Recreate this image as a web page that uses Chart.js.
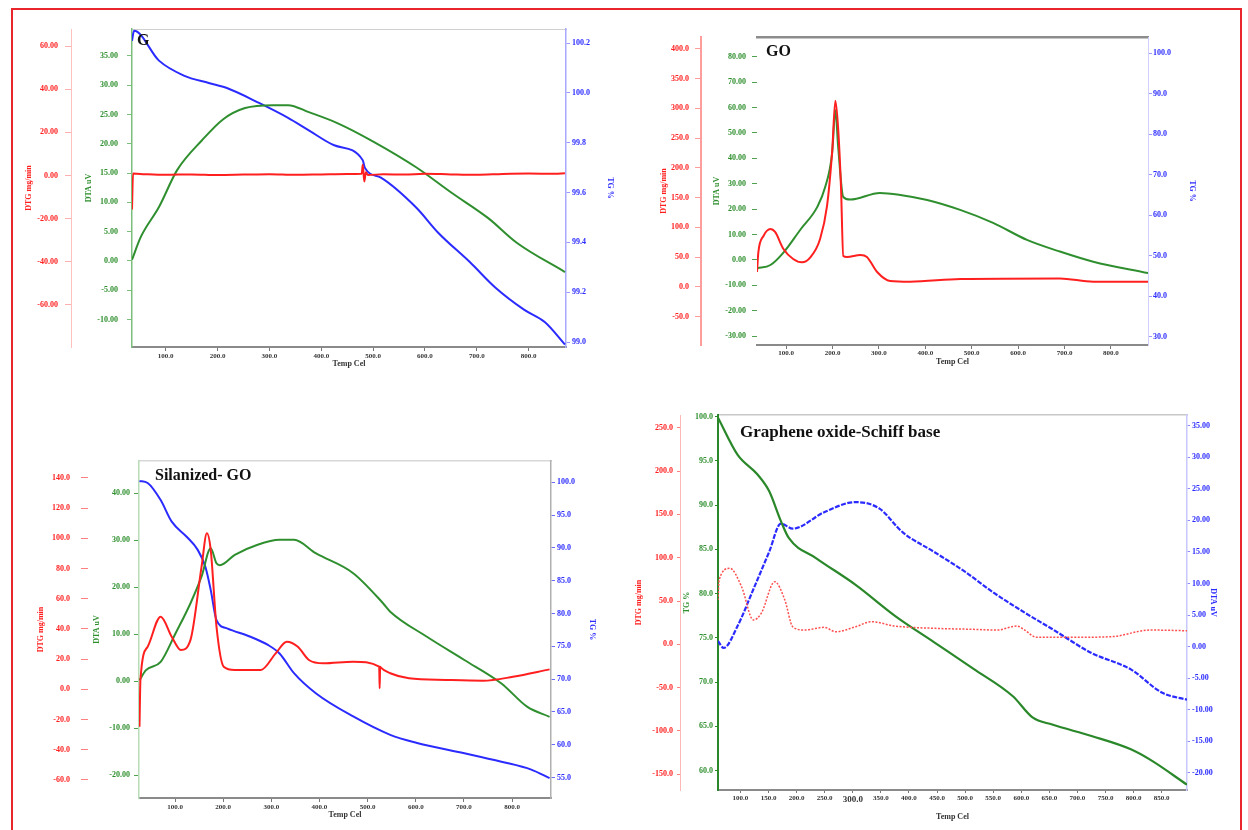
<!DOCTYPE html>
<html>
<head>
<meta charset="utf-8">
<script src="https://cdn.jsdelivr.net/npm/chart.js@4.4.1/dist/chart.umd.min.js"></script>
<style>
  body { margin: 0; background: #fff; width: 1248px; height: 830px; position: relative; overflow: hidden; }
  canvas { position: absolute; left: 0; top: 0; }
  .frame { position: absolute; left: 11px; top: 8px; width: 1227px; height: 820px; border: 2px solid #e8262b; }
  .ttl { position: absolute; font: bold 16px "Liberation Serif", serif; color: #111; white-space: nowrap; }
</style>
</head>
<body>
<div class="frame"></div>
<canvas id="cG" width="1248" height="830"></canvas>
<canvas id="cGO" width="1248" height="830"></canvas>
<canvas id="cSil" width="1248" height="830"></canvas>
<canvas id="cGsb" width="1248" height="830"></canvas>
<div class="ttl" style="left:137px;top:31px">G</div>
<div class="ttl" style="left:766px;top:42px">GO</div>
<div class="ttl" style="left:155px;top:466px">Silanized- GO</div>
<div class="ttl" style="left:740px;top:422px;font-size:17px">Graphene oxide-Schiff base</div>
<script>
// ---- G ----
const gTgT = [35, 39, 87, 135, 183, 218, 280, 336, 376, 425, 480, 484, 515, 583, 625, 687, 735, 791, 831, 870];
const gTg = [100.21, 100.25, 100.13, 100.07, 100.04, 100.02, 99.96, 99.90, 99.85, 99.79, 99.73, 99.70, 99.66, 99.54, 99.44, 99.32, 99.22, 99.13, 99.08, 98.99];
const gDtaT = [35, 52, 87, 122, 170, 211, 253, 307, 336, 376, 432, 502, 583, 652, 722, 777, 870];
const gDta = [0.2, 4.1, 9.2, 15.5, 20.6, 24.2, 26.1, 26.6, 26.6, 25.4, 23.5, 20.3, 16.0, 11.6, 7.3, 3.1, -1.9];
const gDtgT = [35, 37, 60, 100, 150, 200, 250, 300, 350, 400, 450, 478, 480, 483, 486, 490, 520, 560, 600, 650, 700, 750, 800, 850, 870];
const gDtg = [-15.8, 0.9, 0.6, 0.3, 0.5, 0.2, 0.4, 0.6, 0.3, 0.5, 0.7, 0.8, 5.0, -2.8, 1.5, 0.2, 0.6, 0.4, 0.8, 0.5, 0.3, 0.7, 0.9, 0.8, 1.0];
const gXTicks = [100, 200, 300, 400, 500, 600, 700, 800];
const gRedTicks = [-60, -40, -20, 0, 20, 40, 60];
const gGreenTicks = [-10, -5, 0, 5, 10, 15, 20, 25, 30, 35];
const gBlueTicks = [99.0, 99.2, 99.4, 99.6, 99.8, 100.0, 100.2];

// ---- GO ----
const goDtaT = [37, 66, 94, 130, 167, 184, 199, 206, 212, 223, 238, 302, 346, 404, 475, 546, 619, 690, 762, 880];
const goDta = [-3.3, -2.0, 2.9, 11.8, 20.9, 28.7, 42.1, 59.0, 44.5, 24.8, 23.8, 26.4, 25.6, 23.6, 19.7, 14.6, 7.9, 3.3, -0.7, -5.2];
const goDtgT = [37, 40, 51, 66, 76, 94, 115, 134, 152, 173, 188, 199, 206, 212, 218, 223, 231, 260, 274, 296, 324, 367, 475, 690, 762, 880];
const goDtg = [24.7, 58.4, 85.4, 97.1, 92.1, 63.5, 46.6, 41.0, 49.4, 80.3, 135.9, 226.7, 312.6, 265.5, 169.6, 51.7, 50.0, 53.4, 50.0, 24.7, 9.6, 8.4, 13.0, 13.9, 8.4, 8.4];
const goXTicks = [100, 200, 300, 400, 500, 600, 700, 800];
const goRedTicks = [-50, 0, 50, 100, 150, 200, 250, 300, 350, 400];
const goGreenTicks = [-30, -20, -10, 0, 10, 20, 30, 40, 50, 60, 70, 80];
const goBlueTicks = [30, 40, 50, 60, 70, 80, 90, 100];

// ---- Silanized- GO ----
const sTgT = [26, 43, 70, 93, 124, 147, 163, 174, 186, 209, 255, 293, 317, 347, 393, 470, 547, 601, 701, 778, 840, 878];
const sTg = [100.2, 99.9, 97.3, 94.0, 91.7, 89.7, 87.1, 83.6, 79.0, 77.7, 76.5, 75.2, 73.9, 70.9, 67.8, 64.3, 61.5, 60.3, 58.7, 57.4, 56.2, 54.9];
const sDtaT = [26, 39, 70, 101, 132, 155, 174, 186, 193, 224, 270, 317, 347, 393, 470, 532, 547, 624, 701, 778, 832, 878];
const sDta = [0.2, 2.3, 4.1, 10.2, 16.6, 22.3, 28.3, 25.1, 24.7, 26.9, 29.0, 30.1, 30.1, 27.2, 23.0, 16.6, 14.8, 9.4, 4.5, -0.5, -5.5, -7.6];
const sDtgT = [26, 28, 43, 70, 93, 112, 132, 155, 166, 174, 186, 201, 224, 278, 309, 332, 355, 378, 408, 470, 524, 525, 526, 527, 547, 586, 663, 740, 802, 878];
const sDtg = [-24.8, 6.2, 28.2, 48.1, 34.8, 26.0, 32.7, 81.2, 103.3, 92.3, 41.5, 15.0, 12.8, 12.8, 23.8, 31.5, 28.2, 19.4, 17.2, 18.3, 15.0, 0.7, 15.0, 14.5, 10.6, 7.3, 6.2, 5.7, 8.3, 13.2];
const sXTicks = [100, 200, 300, 400, 500, 600, 700, 800];
const sRedTicks = [-60, -40, -20, 0, 20, 40, 60, 80, 100, 120, 140];
const sGreenTicks = [-20, -10, 0, 10, 20, 30, 40];
const sBlueTicks = [55, 60, 65, 70, 75, 80, 85, 90, 95, 100];

// ---- Graphene oxide-Schiff base ----
const bTgT = [60, 95, 130, 151, 172, 186, 235, 305, 375, 445, 515, 585, 620, 655, 725, 795, 830, 895];
const bTg = [99.9, 95.7, 93.5, 91.6, 88.2, 86.3, 84.0, 81.0, 77.5, 74.5, 71.5, 68.4, 66.0, 65.2, 63.9, 62.4, 61.2, 58.4];
const bDtaT = [60, 70, 95, 123, 151, 172, 193, 249, 305, 347, 389, 445, 501, 550, 606, 655, 725, 795, 851, 895];
const bDta = [0.9, -0.2, 3.3, 9.1, 15.0, 19.5, 18.7, 21.3, 22.9, 21.9, 18.1, 15.0, 11.8, 8.6, 5.4, 2.8, -1.0, -3.6, -7.3, -8.4];
const bDtgT = [60, 62, 81, 102, 123, 137, 161, 179, 193, 214, 249, 270, 305, 333, 375, 445, 515, 557, 592, 606, 627, 690, 760, 830, 895];
const bDtg = [51.2, 74.2, 87.8, 66.5, 28.1, 35.8, 72.3, 51.2, 20.3, 16.5, 19.6, 14.5, 20.3, 26.1, 21.1, 18.5, 17.3, 16.5, 21.1, 16.5, 8.1, 8.1, 8.8, 16.5, 15.7];
const bXTicks = [100, 150, 200, 250, 300, 350, 400, 450, 500, 550, 600, 650, 700, 750, 800, 850];
const bRedTicks = [-150, -100, -50, 0, 50, 100, 150, 200, 250];
const bGreenTicks = [60, 65, 70, 75, 80, 85, 90, 95, 100];
const bBlueTicks = [-20, -15, -10, -5, 0, 5, 10, 15, 20, 25, 30, 35];

const RED = '#ff1f1f', GREEN = '#2f8f2f', BLUE = '#2b2bff';
const FONT = 'Liberation Serif';

const pts = (xs, ys) => xs.map((x, i) => ({ x, y: ys[i] }));

function yAxis(o) {
  return {
    type: 'linear', position: o.pos, weight: o.weight || 0, min: o.min, max: o.max,
    afterBuildTicks: s => { s.ticks = o.ticks.map(v => ({ value: v })); },
    afterFit: s => { s.width = o.w; },
    ticks: { autoSkip: false, color: o.color, padding: o.pad, font: { family: FONT, size: 8, weight: 'bold' }, callback: v => v.toFixed(o.dec) },
    grid: { display: true, drawOnChartArea: false, tickLength: o.tick, color: o.tickColor || o.color, lineWidth: 1 },
    border: { display: !!o.line, color: o.line || '#000', width: o.lineW || 1 },
    title: { display: true, text: o.title, color: o.color, font: { family: FONT, size: 8, weight: 'bold' }, padding: { top: o.tpad, bottom: 0 } }
  };
}

function xAxis(o) {
  return {
    type: 'linear', position: 'bottom', min: o.min, max: o.max,
    afterBuildTicks: s => { s.ticks = o.ticks.map(v => ({ value: v })); },
    afterFit: s => { s.height = o.h; },
    ticks: {
      autoSkip: false, maxRotation: 0, color: '#333', padding: o.pad,
      // the reference prints one tick label ("300.0") a size larger
      font: c => ({ family: FONT, size: (c.tick && c.tick.value === o.big) ? 9 : 7, weight: 'bold' }),
      callback: v => v.toFixed(1)
    },
    grid: { display: true, drawOnChartArea: false, tickLength: o.tick, color: '#777' },
    border: { color: '#8a8a8a', width: 2 },
    title: { display: true, text: 'Temp Cel', color: '#333', font: { family: FONT, size: 8, weight: 'bold' }, padding: { top: 0, bottom: o.tpad } }
  };
}

function topAxis(o) {
  return {
    type: 'linear', position: 'top', min: o.min, max: o.max,
    afterFit: s => { s.height = 1; },
    ticks: { display: false },
    grid: { display: true, drawOnChartArea: false, drawTicks: false },
    border: { color: o.color, width: o.w }
  };
}

function panel(id, pad, sets, scales) {
  new Chart(document.getElementById(id), {
    type: 'scatter',
    data: {
      datasets: sets.map(d => ({
        data: pts(d.xs, d.ys), yAxisID: d.axis, borderColor: d.color, backgroundColor: d.color,
        borderWidth: d.w || 2, borderDash: d.dash || [], showLine: true, pointRadius: 0,
        cubicInterpolationMode: 'monotone', fill: false
      }))
    },
    options: {
      responsive: false, animation: false, events: [],
      layout: { padding: pad },
      plugins: { legend: { display: false }, tooltip: { enabled: false } },
      scales
    }
  });
}

// G
panel('cG', { left: 15, right: 628, top: 28, bottom: 461 }, [
  { xs: gDtgT, ys: gDtg, axis: 'red', color: RED },
  { xs: gDtaT, ys: gDta, axis: 'green', color: GREEN },
  { xs: gTgT, ys: gTg, axis: 'blue', color: BLUE }
], {
  x: xAxis({ min: 35, max: 872, ticks: gXTicks, h: 22, tick: 4, pad: 1, tpad: 0 }),
  x2: topAxis({ min: 35, max: 872, color: '#d0d0d0', w: 1 }),
  red: yAxis({ pos: 'left', weight: 1, min: -79.5, max: 67.9, ticks: gRedTicks, w: 56, pad: 7, tick: 6, dec: 2, color: RED, tickColor: '#ffb0b0', line: '#ffc0c0', title: 'DTG mg/min', tpad: 9 }),
  green: yAxis({ pos: 'left', weight: 0, min: -14.7, max: 39.6, ticks: gGreenTicks, w: 61, pad: 9, tick: 5, dec: 2, color: GREEN, tickColor: '#7cbf7c', line: '#7cbf7c', lineW: 1.5, title: 'DTA uV', tpad: 13 }),
  blue: yAxis({ pos: 'right', min: 98.98, max: 100.257, ticks: gBlueTicks, w: 54, pad: 2, tick: 4, dec: 1, color: BLUE, tickColor: '#9a9aff', line: '#a8a8ff', lineW: 1.5, title: 'TG %', tpad: 5 })
});

// GO
panel('cGO', { left: 655, right: 50, top: 36, bottom: 463 }, [
  { xs: goDtgT, ys: goDtg, axis: 'red', color: RED },
  { xs: goDtaT, ys: goDta, axis: 'green', color: GREEN }
], {
  x: xAxis({ min: 37, max: 880, ticks: goXTicks, h: 22, tick: 4, pad: 0, tpad: 0 }),
  x2: topAxis({ min: 37, max: 880, color: '#8c8c8c', w: 2.5 }),
  red: yAxis({ pos: 'left', weight: 1, min: -98, max: 420, ticks: goRedTicks, w: 46, pad: 6, tick: 6, dec: 1, color: RED, tickColor: '#ff9c9c', line: '#ff9c9c', lineW: 2, title: 'DTG mg/min', tpad: 4 }),
  green: yAxis({ pos: 'left', weight: 0, min: -33.5, max: 87.8, ticks: goGreenTicks, w: 56, pad: 6, tick: 5, dec: 2, color: GREEN, tickColor: '#4fa04f', line: null, title: 'DTA uV', tpad: 11 }),
  blue: yAxis({ pos: 'right', min: 28, max: 104, ticks: goBlueTicks, w: 50, pad: 1, tick: 4, dec: 1, color: BLUE, tickColor: '#9a9aff', line: '#d0d0ff', title: 'TG %', tpad: 1 })
});

// Silanized- GO
panel('cSil', { left: 30, right: 649, top: 460, bottom: 9 }, [
  { xs: sDtgT, ys: sDtg, axis: 'red', color: RED },
  { xs: sDtaT, ys: sDta, axis: 'green', color: GREEN },
  { xs: sTgT, ys: sTg, axis: 'blue', color: BLUE }
], {
  x: xAxis({ min: 25, max: 881, ticks: sXTicks, h: 23, tick: 4, pad: 1, tpad: 1 }),
  x2: topAxis({ min: 25, max: 881, color: '#d8d8d8', w: 1.5 }),
  red: yAxis({ pos: 'left', weight: 1, min: -72, max: 151.2, ticks: sRedTicks, w: 58, pad: 11, tick: 7, dec: 1, color: RED, tickColor: '#ff8080', line: null, title: 'DTG mg/min', tpad: 6 }),
  green: yAxis({ pos: 'left', weight: 0, min: -24.9, max: 46.9, ticks: sGreenTicks, w: 51, pad: 4, tick: 5, dec: 2, color: GREEN, tickColor: '#4fa04f', line: '#b8dcb8', lineW: 1.5, title: 'DTA uV', tpad: 4 }),
  blue: yAxis({ pos: 'right', min: 51.87, max: 103.25, ticks: sBlueTicks, w: 48, pad: 2, tick: 4, dec: 1, color: BLUE, tickColor: '#6a6aff', line: '#b0b0b0', lineW: 1.5, title: 'TG %', tpad: 2 })
});

// Graphene oxide-Schiff base
panel('cGsb', { left: 630, right: 27, top: 414, bottom: 8 }, [
  { xs: bDtgT, ys: bDtg, axis: 'red', color: '#ff5050', w: 1.5, dash: [2, 1.5] },
  { xs: bTgT, ys: bTg, axis: 'green', color: '#2a882a', w: 2.2 },
  { xs: bDtaT, ys: bDta, axis: 'blue', color: BLUE, w: 2.2, dash: [5, 1.5] }
], {
  x: xAxis({ min: 60, max: 895, ticks: bXTicks, h: 32, tick: 3, pad: 1, tpad: 0, big: 300 }),
  x2: topAxis({ min: 60, max: 895, color: '#c8c8c8', w: 1.5 }),
  red: yAxis({ pos: 'left', weight: 1, min: -168.2, max: 264.8, ticks: bRedTicks, w: 50, pad: 4, tick: 3, dec: 1, color: RED, tickColor: '#ff8080', line: '#ffb8b8', title: 'DTG mg/min', tpad: 4 }),
  green: yAxis({ pos: 'left', weight: 0, min: 57.8, max: 100.2, ticks: bGreenTicks, w: 38, pad: 2, tick: 3, dec: 1, color: GREEN, tickColor: '#2a882a', line: '#2a882a', lineW: 2, title: 'TG %', tpad: 2 }),
  blue: yAxis({ pos: 'right', min: -22.7, max: 36.7, ticks: bBlueTicks, w: 34, pad: 2, tick: 3, dec: 2, color: BLUE, tickColor: '#8a8aff', line: '#c8c8ff', lineW: 1.5, title: 'DTA uV', tpad: 3 })
});
</script>
</body>
</html>
